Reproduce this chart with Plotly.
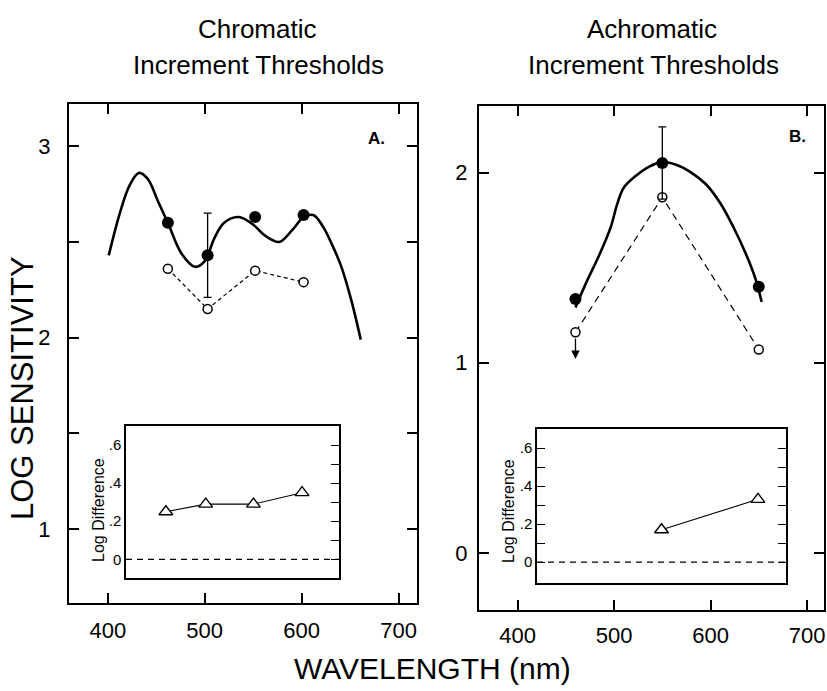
import plotly.graph_objects as go

W, H = 827, 691

# ---------------- Panel A : chromatic increment thresholds ----------------
a_wl = [462, 503, 552, 602]
a_filled = [2.60, 2.43, 2.63, 2.64]
a_open = [2.36, 2.15, 2.35, 2.29]
a_err_wl = [503]
a_err_val = [2.43]
a_err = [0.22]
a_curve_wl = [401, 413, 423, 432, 441, 452, 462, 476, 490, 500, 510, 520, 535, 550,
              563, 577, 590, 602, 612, 622, 631, 641, 651, 661]
a_curve = [2.43, 2.66, 2.80, 2.86, 2.83, 2.71, 2.60, 2.44, 2.37, 2.40, 2.52, 2.60, 2.63,
           2.59, 2.53, 2.50, 2.56, 2.63, 2.64, 2.58, 2.49, 2.37, 2.20, 1.99]
a_diff = [0.25, 0.29, 0.29, 0.35]

# ---------------- Panel B : achromatic increment thresholds ----------------
b_wl = [460, 550, 650]
b_filled = [1.335, 2.05, 1.40]
b_open = [1.16, 1.87, 1.07]
b_err_wl = [550]
b_err_val = [2.05]
b_err = [0.19]
b_curve_wl = [460, 471, 485, 497, 503, 510, 522, 536, 549, 565, 580, 595, 610, 624,
              636, 646, 653]
b_curve = [1.29, 1.42, 1.57, 1.72, 1.83, 1.92, 1.98, 2.03, 2.055, 2.04, 2.00, 1.94,
           1.84, 1.71, 1.58, 1.45, 1.32]
b_arrow_wl = 460
b_arrow_from = 1.135
b_arrow_to = 1.02
b_diff_wl = [550, 650]
b_diff = [0.17, 0.33]

# tick labels
x_ticks = [400, 500, 600, 700]
a_yticks = [1, 1.5, 2, 2.5, 3]
a_yticktext = ["1", "", "2", "", "3"]
b_yticks = [0, 1, 2]
b_yticktext = ["0", "1", "2"]
inset_ticks = [0, 0.1, 0.2, 0.3, 0.4, 0.5, 0.6]
inset_ticktext = ["0", "", ".2", "", ".4", "", ".6"]

FONT = "Liberation Sans, Arial, Helvetica, sans-serif"


def px_x(p):
    return p / W


def px_y(p):
    return 1 - p / H


fig = go.Figure()

# ---- Panel A traces
fig.add_trace(go.Scatter(x=a_curve_wl, y=a_curve, mode="lines",
                         line=dict(color="black", width=2.6, shape="spline", smoothing=1.0),
                         xaxis="x", yaxis="y", showlegend=False))
fig.add_trace(go.Scatter(x=a_wl, y=a_open, mode="lines+markers",
                         line=dict(color="black", width=1.2, dash="4px,3px"),
                         marker=dict(symbol="circle", size=9, color="white",
                                     line=dict(color="black", width=1.5)),
                         xaxis="x", yaxis="y", showlegend=False))
fig.add_trace(go.Scatter(x=a_err_wl, y=a_err_val, mode="markers",
                         marker=dict(size=1, color="rgba(0,0,0,0)"),
                         error_y=dict(type="data", array=a_err, visible=True,
                                      color="black", thickness=1.3, width=4),
                         xaxis="x", yaxis="y", showlegend=False))
fig.add_trace(go.Scatter(x=a_wl, y=a_filled, mode="markers",
                         marker=dict(symbol="circle", size=12, color="black"),
                         xaxis="x", yaxis="y", showlegend=False))

# ---- Panel B traces
fig.add_trace(go.Scatter(x=b_curve_wl, y=b_curve, mode="lines",
                         line=dict(color="black", width=2.6, shape="spline", smoothing=1.0),
                         xaxis="x2", yaxis="y2", showlegend=False))
fig.add_trace(go.Scatter(x=b_wl, y=b_open, mode="lines+markers",
                         line=dict(color="black", width=1.2, dash="7px,5px"),
                         marker=dict(symbol="circle", size=9, color="white",
                                     line=dict(color="black", width=1.5)),
                         xaxis="x2", yaxis="y2", showlegend=False))
fig.add_trace(go.Scatter(x=b_err_wl, y=b_err_val, mode="markers",
                         marker=dict(size=1, color="rgba(0,0,0,0)"),
                         error_y=dict(type="data", array=b_err, visible=True,
                                      color="black", thickness=1.3, width=4),
                         xaxis="x2", yaxis="y2", showlegend=False))
fig.add_trace(go.Scatter(x=b_wl, y=b_filled, mode="markers",
                         marker=dict(symbol="circle", size=12, color="black"),
                         xaxis="x2", yaxis="y2", showlegend=False))

# ---- Insets
fig.add_trace(go.Scatter(x=a_wl, y=a_diff, mode="lines+markers",
                         line=dict(color="black", width=1.1),
                         marker=dict(symbol="triangle-up", size=12, color="white",
                                     line=dict(color="black", width=1.4)),
                         xaxis="x3", yaxis="y3", showlegend=False))
fig.add_trace(go.Scatter(x=a_wl, y=a_diff, mode="none", hoverinfo="skip",
                         xaxis="x3", yaxis="y5", showlegend=False))
fig.add_trace(go.Scatter(x=b_diff_wl, y=b_diff, mode="lines+markers",
                         line=dict(color="black", width=1.1),
                         marker=dict(symbol="triangle-up", size=12, color="white",
                                     line=dict(color="black", width=1.4)),
                         xaxis="x4", yaxis="y4", showlegend=False))

main_axis = dict(showline=True, linecolor="black", linewidth=2, mirror="ticks",
                 ticks="inside", ticklen=10, tickwidth=1.6, tickcolor="black",
                 showgrid=False, zeroline=False,
                 tickfont=dict(family=FONT, size=22, color="black"))

fig.update_layout(
    width=W, height=H,
    margin=dict(l=0, r=0, t=0, b=0),
    paper_bgcolor="white", plot_bgcolor="rgba(0,0,0,0)",
    showlegend=False,
    xaxis=dict(main_axis, domain=[px_x(69), px_x(417)], range=[360, 719],
               tickvals=x_ticks, anchor="y", ticklabelstandoff=7),
    yaxis=dict(main_axis, domain=[px_y(603), px_y(104)], range=[0.615, 3.22],
               tickvals=a_yticks, ticktext=a_yticktext, anchor="x", ticklabelstandoff=12),
    xaxis2=dict(main_axis, domain=[px_x(479), px_x(824)], range=[360, 717.6],
                tickvals=x_ticks, anchor="y2", ticklabelstandoff=5),
    yaxis2=dict(main_axis, domain=[px_y(610), px_y(106)], range=[-0.30, 2.35],
                tickvals=b_yticks, ticktext=b_yticktext, anchor="x2", ticklabelstandoff=5),
    xaxis3=dict(domain=[px_x(126), px_x(339)], range=[421, 640], anchor="y3",
                showline=True, linecolor="black", linewidth=1.5, mirror=True,
                ticks="", showticklabels=False, showgrid=False, zeroline=False),
    yaxis3=dict(domain=[px_y(578), px_y(426)], range=[-0.098, 0.70], anchor="x3",
                showline=True, linecolor="black", linewidth=1.5, mirror=True,
                ticks="", tickvals=inset_ticks, ticktext=inset_ticktext,
                showgrid=False, zeroline=False, ticklabelstandoff=0,
                tickfont=dict(family=FONT, size=15, color="black")),
    yaxis5=dict(overlaying="y3", side="right", anchor="x3", range=[-0.098, 0.70],
                showline=False, ticks="inside", ticklen=8, tickwidth=1.3,
                tickcolor="black", tickvals=inset_ticks, showticklabels=False,
                showgrid=False, zeroline=False),
    xaxis4=dict(domain=[px_x(537), px_x(786)], range=[421, 679], anchor="y4",
                showline=True, linecolor="black", linewidth=1.5, mirror=True,
                ticks="", showticklabels=False, showgrid=False, zeroline=False),
    yaxis4=dict(domain=[px_y(583), px_y(429)], range=[-0.11, 0.70], anchor="x4",
                showline=True, linecolor="black", linewidth=1.5, mirror="ticks",
                ticks="inside", ticklen=8, tickwidth=1.3, tickcolor="black",
                tickvals=inset_ticks, ticktext=inset_ticktext,
                showgrid=False, zeroline=False, ticklabelstandoff=0,
                tickfont=dict(family=FONT, size=15, color="black")),
)

# dashed zero lines in insets
for xr, yr in (("x3", "y3"), ("x4", "y4")):
    fig.add_shape(type="line", xref=f"{xr} domain", yref=yr, x0=0, x1=1, y0=0, y1=0,
                  line=dict(color="black", width=1.2, dash="6px,5px"))

# arrow in panel B
fig.add_annotation(x=b_arrow_wl, y=b_arrow_to, ax=b_arrow_wl, ay=b_arrow_from,
                   xref="x2", yref="y2", axref="x2", ayref="y2", text="",
                   showarrow=True, arrowhead=2, arrowsize=1.3, arrowwidth=1.3,
                   arrowcolor="black", standoff=0, startstandoff=0)


def label(text, x, y, size, angle=0, bold=False):
    fig.add_annotation(x=px_x(x), y=px_y(y), xref="paper", yref="paper", text=text,
                       showarrow=False, textangle=angle, xanchor="center", yanchor="middle",
                       borderpad=0,
                       font=dict(family=FONT, size=size, color="black",
                                 weight="bold" if bold else "normal"))


label("Chromatic", 257, 29, 26)
label("Increment Thresholds", 258, 65, 26)
label("Achromatic", 652, 29, 26)
label("Increment Thresholds", 653, 65, 26)
label("A.", 376, 139, 17, bold=True)
label("B.", 797, 137, 17, bold=True)
label("LOG SENSITIVITY", 22, 388, 31, angle=-90)
label("WAVELENGTH (nm)", 432, 668, 30)
label("Log Difference", 98, 510, 16, angle=-90)
label("Log Difference", 508, 511, 16, angle=-90)

fig.write_html(
    "out.html",
    config={"displayModeBar": False},
    post_script="document.body.style.margin='0';document.body.style.overflow='hidden';",
)
